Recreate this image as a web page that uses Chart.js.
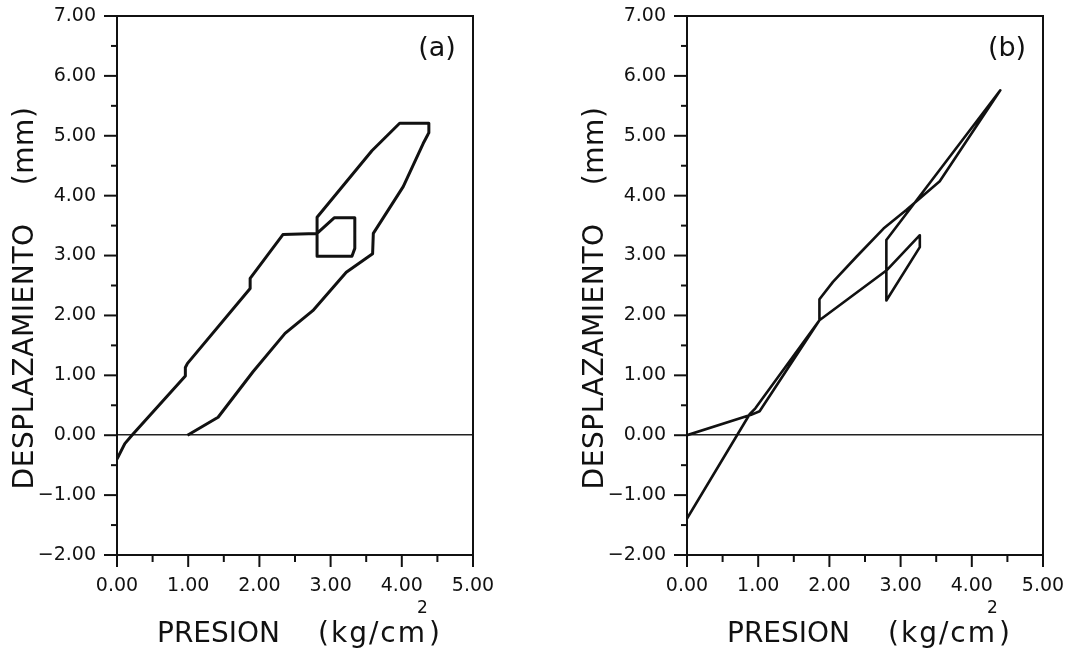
<!DOCTYPE html>
<html>
<head>
<meta charset="utf-8">
<script src="https://cdn.jsdelivr.net/npm/chart.js@4.4.1/dist/chart.umd.min.js"></script>
<style>
  html, body { margin: 0; padding: 0; background: #fff; }
  .wrap { position: relative; width: 1076px; height: 648px; overflow: hidden; }
  .panel { position: absolute; top: 0; }
</style>
</head>
<body>
<div class="wrap">
  <canvas id="chartA" class="panel" style="left:0" width="506" height="648"></canvas>
  <canvas id="chartB" class="panel" style="left:570px" width="506" height="648"></canvas>
</div>
<script>
// panel (a): pressure (kg/cm2) vs displacement (mm), one continuous loop
const pressureA = [0.00, 0.11, 0.21, 0.96, 0.96, 0.99, 1.87, 1.87, 2.33, 2.81, 3.05, 3.34, 3.34, 3.30, 2.81,
  2.81, 3.58, 3.97, 4.38, 4.38, 4.30, 4.02, 3.60, 3.59, 3.22, 2.75, 2.36, 1.91, 1.42, 0.99];
const displacementA = [-0.40, -0.14, 0.00, 0.99, 1.13, 1.20, 2.45, 2.62, 3.35, 3.37, 3.63, 3.63, 3.12, 2.99, 2.99,
  3.64, 4.75, 5.21, 5.21, 5.05, 4.87, 4.15, 3.37, 3.03, 2.72, 2.08, 1.70, 1.06, 0.30, 0.00];

// panel (b)
const pressureB = [0.00, 0.90, 1.02, 1.86, 1.86, 2.05, 2.38, 2.76, 3.08, 3.55, 4.40, 2.80, 2.80, 3.27, 3.27,
  2.80, 1.86, 0.96, 0.88, 0.00];
const displacementB = [0.00, 0.34, 0.40, 1.92, 2.27, 2.56, 2.98, 3.45, 3.76, 4.24, 5.76, 3.26, 2.25, 3.14, 3.34,
  2.75, 1.92, 0.45, 0.35, -1.39];

const xRange = [0, 5];
const yRange = [-2, 7];
const panelTags = ['(a)', '(b)'];
const yTitle = 'DESPLAZAMIENTO    (mm)';

const FONT = '"DejaVu Sans", "Liberation Sans", sans-serif';
const INK = '#111';

const fmt = (v) => (Number.isInteger(v) ? v.toFixed(2).replace('-', '\u2212') : '');

// frame, minor/major tick marks, axis titles and panel tag
const framePlugin = {
  id: 'frame',
  afterDraw(chart, args, opts) {
    const { ctx, chartArea: a, scales: { x, y } } = chart;
    ctx.save();
    ctx.strokeStyle = INK;
    ctx.lineWidth = 2;
    ctx.beginPath();
    ctx.moveTo(a.left, a.top);
    ctx.lineTo(a.right, a.top);
    ctx.lineTo(a.right, a.bottom);
    ctx.stroke();

    y.ticks.forEach((t) => {
      const py = y.getPixelForValue(t.value);
      const len = Number.isInteger(t.value) ? 13 : 6;
      ctx.beginPath();
      ctx.moveTo(a.left - len, py);
      ctx.lineTo(a.left, py);
      ctx.stroke();
    });
    x.ticks.forEach((t) => {
      const px = x.getPixelForValue(t.value);
      const len = Number.isInteger(t.value) ? 12 : 7;
      ctx.beginPath();
      ctx.moveTo(px, a.bottom);
      ctx.lineTo(px, a.bottom + len);
      ctx.stroke();
    });

    ctx.fillStyle = INK;

    // panel tag
    ctx.font = '27px ' + FONT;
    ctx.textAlign = 'center';
    ctx.textBaseline = 'middle';
    ctx.fillText(opts.tag, a.right - 36, a.top + 33);

    // x title: PRESION (kg/cm^2)
    const cx = (a.left + a.right) / 2;
    ctx.textBaseline = 'alphabetic';
    ctx.textAlign = 'left';
    ctx.font = '28px ' + FONT;
    ctx.fillText('PRESION', cx - 138, 642);
    ctx.letterSpacing = '2px';
    ctx.fillText('(kg/cm', cx + 23, 642);
    ctx.letterSpacing = '0px';
    ctx.fillText(')', cx + 134, 642);
    ctx.font = '17px ' + FONT;
    ctx.fillText('2', cx + 122, 613);

    // y title
    ctx.font = '28px ' + FONT;
    ctx.letterSpacing = '0.6px';
    ctx.translate(33, 298);
    ctx.rotate(-Math.PI / 2);
    ctx.textAlign = 'center';
    ctx.fillText(yTitle, 0, 0);
    ctx.restore();
  }
};

function makeChart(id, px, py, tag, lw) {
  const points = px.map((v, i) => ({ x: v, y: py[i] }));
  return new Chart(document.getElementById(id), {
    type: 'scatter',
    data: {
      datasets: [{
        data: points,
        showLine: true,
        borderColor: INK,
        borderWidth: lw,
        pointRadius: 0,
        tension: 0,
        borderJoinStyle: 'round'
      }]
    },
    options: {
      responsive: false,
      animation: false,
      layout: { padding: { top: 16, right: 33, left: 0, bottom: 0 } },
      plugins: {
        legend: { display: false },
        tooltip: { enabled: false },
        frame: { tag: tag }
      },
      scales: {
        x: {
          type: 'linear',
          min: xRange[0],
          max: xRange[1],
          afterFit: (s) => { s.height = 93; s.paddingLeft = 0; s.paddingRight = 0; },
          border: { display: true, color: INK, width: 2 },
          grid: { display: false, drawTicks: false },
          ticks: {
            stepSize: 0.5,
            padding: 20,
            maxRotation: 0,
            autoSkip: false,
            color: INK,
            font: { family: FONT, size: 19 },
            callback: fmt
          }
        },
        y: {
          type: 'linear',
          min: yRange[0],
          max: yRange[1],
          afterFit: (s) => { s.width = 117; s.paddingTop = 0; s.paddingBottom = 0; },
          border: { display: true, color: INK, width: 2 },
          grid: {
            display: true,
            drawTicks: false,
            lineWidth: 1.5,
            color: (c) => (c.tick && c.tick.value === 0 ? '#222' : 'rgba(0,0,0,0)')
          },
          ticks: {
            stepSize: 0.5,
            padding: 21,
            autoSkip: false,
            color: INK,
            font: { family: FONT, size: 19 },
            callback: fmt
          }
        }
      }
    },
    plugins: [framePlugin]
  });
}

makeChart('chartA', pressureA, displacementA, panelTags[0], 3);
makeChart('chartB', pressureB, displacementB, panelTags[1], 2.6);
</script>
</body>
</html>
